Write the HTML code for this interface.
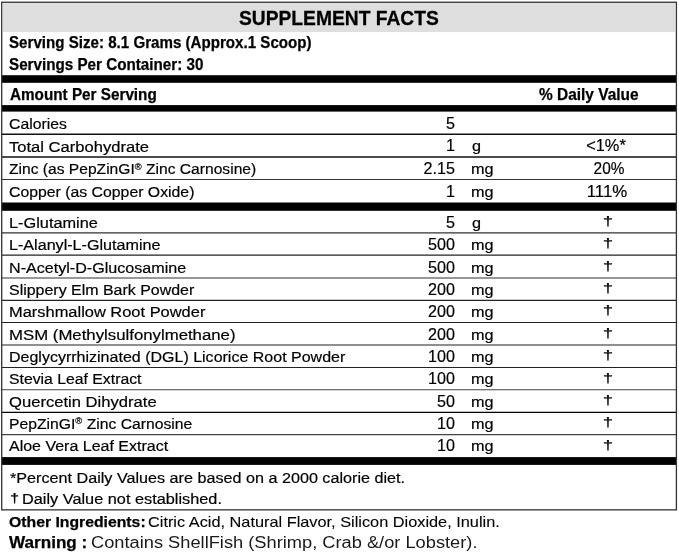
<!DOCTYPE html>
<html><head><meta charset="utf-8">
<style>
html,body{margin:0;padding:0;background:#fff;}
body{width:679px;height:554px;position:relative;overflow:hidden;will-change:transform;font-family:"Liberation Sans",sans-serif;color:#000;}
.t{-webkit-text-stroke:0.2px #000;position:absolute;white-space:nowrap;line-height:20px;height:20px;}
.art{position:absolute;left:0;top:0;}
.b{font-weight:bold;-webkit-text-stroke:0.25px #000;}
#w2{-webkit-text-stroke:0;color:#1a1a1a;}
#oi2{-webkit-text-stroke:0.1px #000;}
#title{-webkit-text-stroke:0.3px #000;}
.r{text-align:right;}
.c{text-align:center;}
sup{font-size:0.6em;line-height:0;vertical-align:baseline;position:relative;top:-0.5em;}
</style></head><body>

<svg class="art" width="679" height="554" viewBox="0 0 679 554"><rect x="2.9" y="3.1" width="672.1" height="29.0" fill="#dedede"/><rect x="1.7" y="75.2" width="674.7" height="7.6" fill="#000"/><rect x="1.7" y="105.1" width="674.7" height="6.5" fill="#000"/><rect x="1.7" y="202.5" width="674.7" height="8.3" fill="#000"/><rect x="1.7" y="457.1" width="674.7" height="7.8" fill="#000"/><line x1="1.7" x2="676.4" y1="134.2" y2="134.2" stroke="#111" stroke-width="1.5"/><line x1="1.7" x2="676.4" y1="157.0" y2="157.0" stroke="#111" stroke-width="1.4"/><line x1="1.7" x2="676.4" y1="179.5" y2="179.5" stroke="#333" stroke-width="1.1"/><line x1="1.7" x2="676.4" y1="232.8" y2="232.8" stroke="#333" stroke-width="1.2"/><line x1="1.7" x2="676.4" y1="255.2" y2="255.2" stroke="#222" stroke-width="1.2"/><line x1="1.7" x2="676.4" y1="278.0" y2="278.0" stroke="#333" stroke-width="1.2"/><line x1="1.7" x2="676.4" y1="300.3" y2="300.3" stroke="#222" stroke-width="1.2"/><line x1="1.7" x2="676.4" y1="322.5" y2="322.5" stroke="#222" stroke-width="1.2"/><line x1="1.7" x2="676.4" y1="345.0" y2="345.0" stroke="#222" stroke-width="1.2"/><line x1="1.7" x2="676.4" y1="367.5" y2="367.5" stroke="#222" stroke-width="1.2"/><line x1="1.7" x2="676.4" y1="389.8" y2="389.8" stroke="#444" stroke-width="1.1"/><line x1="1.7" x2="676.4" y1="412.4" y2="412.4" stroke="#000" stroke-width="1.3"/><line x1="1.7" x2="676.4" y1="434.6" y2="434.6" stroke="#444" stroke-width="1.1"/><rect x="1.7" y="2.25" width="674.7" height="507.6" fill="none" stroke="#333" stroke-width="1.3"/></svg>
<div id="title" class="t b" style="top:8.31px;font-size:20.5px;left:238.72px;transform-origin:0 0;transform:scaleX(0.9379);">SUPPLEMENT FACTS</div>
<div id="ss" class="t b" style="top:33.40px;font-size:15.7px;left:9.00px;transform-origin:0 0;transform:scaleX(0.9640);">Serving Size: 8.1 Grams (Approx.1 Scoop)</div>
<div id="sp" class="t b" style="top:54.80px;font-size:15.7px;left:9.00px;transform-origin:0 0;transform:scaleX(0.9693);">Servings Per Container: 30</div>
<div id="aps" class="t b" style="top:84.90px;font-size:15.7px;left:9.50px;transform-origin:0 0;transform:scaleX(0.9732);">Amount Per Serving</div>
<div id="dv" class="t b" style="top:84.90px;font-size:15.7px;left:539.28px;transform-origin:0 0;transform:scaleX(0.9843);">% Daily Value</div>
<div id="r0" class="t" style="top:113.81px;font-size:15.4px;left:9.40px;transform-origin:0 0;transform:scaleX(1.0249);">Calories</div>
<div id="n0" class="t r" style="top:113.60px;font-size:16.9px;left:355.47px;width:100px;transform-origin:100% 0;transform:scaleX(0.9550);">5</div>
<div id="r1" class="t" style="top:136.60px;font-size:15.4px;left:9.40px;transform-origin:0 0;transform:scaleX(1.0763);">Total Carbohydrate</div>
<div id="n1" class="t r" style="top:136.40px;font-size:16.9px;left:355.43px;width:100px;transform-origin:100% 0;transform:scaleX(0.9550);">1</div>
<div id="u1" class="t" style="top:136.40px;font-size:15.2px;left:471.96px;transform-origin:0 0;transform:scaleX(1.0690);">g</div>
<div id="d1" class="t c" style="top:136.40px;font-size:16.9px;left:556.06px;width:100px;transform-origin:50% 0;transform:scaleX(0.9680);">&lt;1%*</div>
<div id="r2" class="t" style="top:159.41px;font-size:15.4px;left:9.40px;transform-origin:0 0;transform:scaleX(1.0141);">Zinc (as PepZinGI<sup>®</sup> Zinc Carnosine)</div>
<div id="n2" class="t r" style="top:159.21px;font-size:16.9px;left:355.47px;width:100px;transform-origin:100% 0;transform:scaleX(0.9550);">2.15</div>
<div id="u2" class="t" style="top:159.21px;font-size:15.2px;left:471.42px;transform-origin:0 0;transform:scaleX(1.0690);">mg</div>
<div id="d2" class="t c" style="top:159.21px;font-size:16.9px;left:558.77px;width:100px;transform-origin:50% 0;transform:scaleX(0.9112);">20%</div>
<div id="r3" class="t" style="top:182.22px;font-size:15.4px;left:9.40px;transform-origin:0 0;transform:scaleX(1.0272);">Copper (as Copper Oxide)</div>
<div id="n3" class="t r" style="top:182.00px;font-size:16.9px;left:355.43px;width:100px;transform-origin:100% 0;transform:scaleX(0.9550);">1</div>
<div id="u3" class="t" style="top:182.00px;font-size:15.2px;left:471.42px;transform-origin:0 0;transform:scaleX(1.0690);">mg</div>
<div id="d3" class="t c" style="top:182.00px;font-size:16.9px;left:557.00px;width:100px;transform-origin:50% 0;transform:scaleX(0.9969);">111%</div>
<div id="r4" class="t" style="top:212.90px;font-size:15.4px;left:9.40px;transform-origin:0 0;transform:scaleX(1.0603);">L-Glutamine</div>
<div id="n4" class="t r" style="top:212.70px;font-size:16.9px;left:355.47px;width:100px;transform-origin:100% 0;transform:scaleX(0.9550);">5</div>
<div id="u4" class="t" style="top:212.71px;font-size:15.2px;left:471.96px;transform-origin:0 0;transform:scaleX(1.0690);">g</div>
<div id="d4" class="t c" style="top:211.01px;font-size:13.2px;left:557.55px;width:100px;transform-origin:50% 0;transform:scaleX(1.4212);">†</div>
<div id="r5" class="t" style="top:235.21px;font-size:15.4px;left:9.40px;transform-origin:0 0;transform:scaleX(1.0476);">L-Alanyl-L-Glutamine</div>
<div id="n5" class="t r" style="top:235.01px;font-size:16.9px;left:355.19px;width:100px;transform-origin:100% 0;transform:scaleX(0.9550);">500</div>
<div id="u5" class="t" style="top:235.01px;font-size:15.2px;left:471.42px;transform-origin:0 0;transform:scaleX(1.0690);">mg</div>
<div id="d5" class="t c" style="top:233.31px;font-size:13.2px;left:557.55px;width:100px;transform-origin:50% 0;transform:scaleX(1.4212);">†</div>
<div id="r6" class="t" style="top:257.71px;font-size:15.4px;left:9.40px;transform-origin:0 0;transform:scaleX(1.0465);">N-Acetyl-D-Glucosamine</div>
<div id="n6" class="t r" style="top:257.51px;font-size:16.9px;left:355.19px;width:100px;transform-origin:100% 0;transform:scaleX(0.9550);">500</div>
<div id="u6" class="t" style="top:257.51px;font-size:15.2px;left:471.42px;transform-origin:0 0;transform:scaleX(1.0690);">mg</div>
<div id="d6" class="t c" style="top:255.81px;font-size:13.2px;left:557.55px;width:100px;transform-origin:50% 0;transform:scaleX(1.4212);">†</div>
<div id="r7" class="t" style="top:280.00px;font-size:15.4px;left:9.40px;transform-origin:0 0;transform:scaleX(1.0365);">Slippery Elm Bark Powder</div>
<div id="n7" class="t r" style="top:279.82px;font-size:16.9px;left:355.19px;width:100px;transform-origin:100% 0;transform:scaleX(0.9550);">200</div>
<div id="u7" class="t" style="top:279.81px;font-size:15.2px;left:471.42px;transform-origin:0 0;transform:scaleX(1.0690);">mg</div>
<div id="d7" class="t c" style="top:278.10px;font-size:13.2px;left:557.55px;width:100px;transform-origin:50% 0;transform:scaleX(1.4212);">†</div>
<div id="r8" class="t" style="top:302.31px;font-size:15.4px;left:9.40px;transform-origin:0 0;transform:scaleX(1.0677);">Marshmallow Root Powder</div>
<div id="n8" class="t r" style="top:302.11px;font-size:16.9px;left:355.19px;width:100px;transform-origin:100% 0;transform:scaleX(0.9550);">200</div>
<div id="u8" class="t" style="top:302.10px;font-size:15.2px;left:471.42px;transform-origin:0 0;transform:scaleX(1.0690);">mg</div>
<div id="d8" class="t c" style="top:300.41px;font-size:13.2px;left:557.55px;width:100px;transform-origin:50% 0;transform:scaleX(1.4212);">†</div>
<div id="r9" class="t" style="top:324.71px;font-size:15.4px;left:9.40px;transform-origin:0 0;transform:scaleX(1.0899);">MSM (Methylsulfonylmethane)</div>
<div id="n9" class="t r" style="top:324.51px;font-size:16.9px;left:355.19px;width:100px;transform-origin:100% 0;transform:scaleX(0.9550);">200</div>
<div id="u9" class="t" style="top:324.51px;font-size:15.2px;left:471.42px;transform-origin:0 0;transform:scaleX(1.0690);">mg</div>
<div id="d9" class="t c" style="top:322.81px;font-size:13.2px;left:557.55px;width:100px;transform-origin:50% 0;transform:scaleX(1.4212);">†</div>
<div id="r10" class="t" style="top:347.00px;font-size:15.4px;left:9.40px;transform-origin:0 0;transform:scaleX(1.0402);">Deglycyrrhizinated (DGL) Licorice Root Powder</div>
<div id="n10" class="t r" style="top:346.82px;font-size:16.9px;left:355.19px;width:100px;transform-origin:100% 0;transform:scaleX(0.9550);">100</div>
<div id="u10" class="t" style="top:346.81px;font-size:15.2px;left:471.42px;transform-origin:0 0;transform:scaleX(1.0690);">mg</div>
<div id="d10" class="t c" style="top:345.10px;font-size:13.2px;left:557.55px;width:100px;transform-origin:50% 0;transform:scaleX(1.4212);">†</div>
<div id="r11" class="t" style="top:369.40px;font-size:15.4px;left:9.40px;transform-origin:0 0;transform:scaleX(1.0252);">Stevia Leaf Extract</div>
<div id="n11" class="t r" style="top:369.20px;font-size:16.9px;left:355.19px;width:100px;transform-origin:100% 0;transform:scaleX(0.9550);">100</div>
<div id="u11" class="t" style="top:369.21px;font-size:15.2px;left:471.42px;transform-origin:0 0;transform:scaleX(1.0690);">mg</div>
<div id="d11" class="t c" style="top:367.51px;font-size:13.2px;left:557.55px;width:100px;transform-origin:50% 0;transform:scaleX(1.4212);">†</div>
<div id="r12" class="t" style="top:391.71px;font-size:15.4px;left:9.40px;transform-origin:0 0;transform:scaleX(1.0789);">Quercetin Dihydrate</div>
<div id="n12" class="t r" style="top:391.51px;font-size:16.9px;left:355.19px;width:100px;transform-origin:100% 0;transform:scaleX(0.9550);">50</div>
<div id="u12" class="t" style="top:391.51px;font-size:15.2px;left:471.42px;transform-origin:0 0;transform:scaleX(1.0690);">mg</div>
<div id="d12" class="t c" style="top:389.81px;font-size:13.2px;left:557.55px;width:100px;transform-origin:50% 0;transform:scaleX(1.4212);">†</div>
<div id="r13" class="t" style="top:414.10px;font-size:15.4px;left:9.40px;transform-origin:0 0;transform:scaleX(1.0206);">PepZinGI<sup>®</sup> Zinc Carnosine</div>
<div id="n13" class="t r" style="top:413.91px;font-size:16.9px;left:355.19px;width:100px;transform-origin:100% 0;transform:scaleX(0.9550);">10</div>
<div id="u13" class="t" style="top:413.91px;font-size:15.2px;left:471.42px;transform-origin:0 0;transform:scaleX(1.0690);">mg</div>
<div id="d13" class="t c" style="top:412.22px;font-size:13.2px;left:557.55px;width:100px;transform-origin:50% 0;transform:scaleX(1.4212);">†</div>
<div id="r14" class="t" style="top:436.40px;font-size:15.4px;left:9.40px;transform-origin:0 0;transform:scaleX(1.0390);">Aloe Vera Leaf Extract</div>
<div id="n14" class="t r" style="top:436.20px;font-size:16.9px;left:355.19px;width:100px;transform-origin:100% 0;transform:scaleX(0.9550);">10</div>
<div id="u14" class="t" style="top:436.21px;font-size:15.2px;left:471.42px;transform-origin:0 0;transform:scaleX(1.0690);">mg</div>
<div id="d14" class="t c" style="top:434.51px;font-size:13.2px;left:557.55px;width:100px;transform-origin:50% 0;transform:scaleX(1.4212);">†</div>
<div id="f1" class="t" style="top:467.91px;font-size:15.4px;left:9.90px;transform-origin:0 0;transform:scaleX(1.0501);">*Percent Daily Values are based on a 2000 calorie diet.</div>
<div id="f2a" class="t" style="top:488.01px;font-size:12.5px;left:9.57px;transform-origin:0 0;transform:scaleX(1.3131);">†</div>
<div id="f2" class="t" style="top:489.01px;font-size:15.4px;left:21.81px;transform-origin:0 0;transform:scaleX(1.0589);">Daily Value not established.</div>
<div id="oi" class="t b" style="top:512.00px;font-size:14.6px;left:9.30px;transform-origin:0 0;transform:scaleX(1.0802);">Other Ingredients:</div>
<div id="oi2" class="t" style="top:511.72px;font-size:14.5px;left:148.39px;transform-origin:0 0;transform:scaleX(1.1249);">Citric Acid, Natural Flavor, Silicon Dioxide, Inulin.</div>
<div id="w" class="t b" style="top:532.40px;font-size:16.2px;left:9.00px;transform-origin:0 0;transform:scaleX(1.0568);">Warning :</div>
<div id="w2" class="t" style="top:533.41px;font-size:15.8px;left:90.75px;transform-origin:0 0;transform:scaleX(1.1554);">Contains ShellFish (Shrimp, Crab &amp;/or Lobster).</div>
</body></html>
